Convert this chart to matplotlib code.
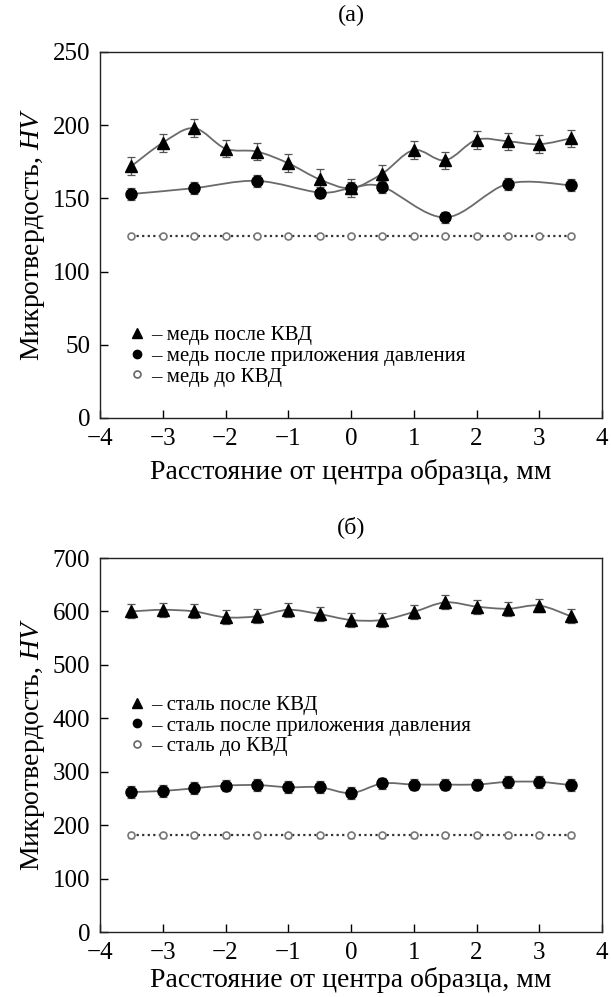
import numpy as np
import matplotlib
matplotlib.use("Agg")
import matplotlib.pyplot as plt
from matplotlib.path import Path
from matplotlib.patches import PathPatch
from matplotlib.lines import Line2D

plt.rcParams['font.family'] = ['Liberation Serif', 'DejaVu Serif']
plt.rcParams['mathtext.fontset'] = 'custom'
plt.rcParams['mathtext.rm'] = 'Liberation Serif'
plt.rcParams['mathtext.it'] = 'Liberation Serif:italic'

# ---------------- data ----------------
x_all = [-3.5, -3.0, -2.5, -2.0, -1.5, -1.0, -0.5, 0.0, 0.5, 1.0, 1.5, 2.0, 2.5, 3.0, 3.5]
x_cu_press = [-3.5, -2.5, -1.5, -0.5, 0.0, 0.5, 1.5, 2.5, 3.5]

cu_hpt = [172, 188, 198, 184, 182, 174, 163, 157, 167, 183, 176, 190, 189, 187, 191]
cu_hpt_err = [6, 6, 6, 6, 6, 6, 7, 6, 6, 6, 6, 6, 6, 6, 6]
cu_press = [153, 157, 162, 154, 157, 158, 137, 160, 159]
cu_press_err = [4, 4, 4, 4, 4, 4, 4, 4, 4]
cu_init = [124] * 15
cu_init_err = [1] * 15

st_hpt = [600, 603, 600, 589, 591, 603, 595, 584, 584, 599, 617, 609, 605, 611, 591]
st_hpt_err = [13] * 15
st_press = [262, 264, 269, 274, 275, 271, 271, 260, 278, 276, 276, 276, 281, 281, 275]
st_press_err = [11] * 15
st_init = [181] * 15
st_init_err = [5] * 15

cu_labels = ['– медь после КВД', '– медь после приложения давления', '– медь до КВД']
st_labels = ['– сталь после КВД', '– сталь после приложения давления', '– сталь до КВД']
x_ticks = [-4, -3, -2, -1, 0, 1, 2, 3, 4]
xlabel = 'Расстояние от центра образца, мм'
ylabel = 'Микротвердость, $HV$'

LINE_C = '#6a6a6a'
ERR_C = '#555555'


def smooth_path(x, y):
    x = np.asarray(x, float)
    y = np.asarray(y, float)
    p = np.column_stack([x, y])
    n = len(p)
    verts = [p[0]]
    codes = [Path.MOVETO]
    for i in range(n - 1):
        p0 = p[i - 1] if i > 0 else p[i]
        p1 = p[i]
        p2 = p[i + 1]
        p3 = p[i + 2] if i + 2 < n else p[i + 1]
        c1 = p1 + (p2 - p0) / 6.0
        c2 = p2 - (p3 - p1) / 6.0
        verts += [c1, c2, p2]
        codes += [Path.CURVE4] * 3
    return Path(verts, codes)


def draw_series(ax, x, y, err, marker, ms, mfc, mec):
    ax.add_patch(PathPatch(smooth_path(x, y), fill=False, edgecolor=LINE_C,
                           lw=1.3, zorder=2))
    ax.errorbar(x, y, yerr=err, fmt='none', ecolor=ERR_C, elinewidth=0.9,
                capsize=3, capthick=0.9, zorder=3)
    ax.plot(x, y, ls='none', marker=marker, ms=ms, mfc=mfc, mec=mec, mew=1.0, zorder=4)


def style_axes(ax, ylim, yticks, xpad):
    ax.set_xlim(-4, 4)
    ax.set_ylim(*ylim)
    ax.set_xticks(x_ticks)
    ax.set_xticklabels([str(t).replace('-', '−') for t in x_ticks])
    ax.set_yticks(yticks)
    ax.tick_params(direction='in', length=6, width=1.0, labelsize=18,
                   top=False, right=False, pad=7)
    for s in ax.spines.values():
        s.set_linewidth(1.0)
        s.set_color('#222222')
    ax.set_xlabel(xlabel, fontsize=20, labelpad=xpad)
    ax.set_ylabel(ylabel, fontsize=20, labelpad=4)


def add_legend(ax, labels, anchor):
    handles = [
        Line2D([], [], ls='none', marker='^', ms=7, mfc='black', mec='black'),
        Line2D([], [], ls='none', marker='o', ms=6, mfc='black', mec='black'),
        Line2D([], [], ls='none', marker='o', ms=5, mfc='white', mec='#666666', mew=1.2),
    ]
    ax.legend(handles, labels, loc='upper left', bbox_to_anchor=anchor,
              frameon=False, fontsize=15, handlelength=0.8, handletextpad=0.3,
              labelspacing=0.05, borderaxespad=0)


fig = plt.figure(figsize=(6.11, 9.97), dpi=100)
ax1 = fig.add_axes([100 / 611, 1 - 418 / 997, 502 / 611, 366 / 997])
ax2 = fig.add_axes([100 / 611, 1 - 932 / 997, 502 / 611, 374 / 997])

# top panel (copper)
draw_series(ax1, x_all, cu_hpt, cu_hpt_err, '^', 8.5, 'black', 'black')
draw_series(ax1, x_cu_press, cu_press, cu_press_err, 'o', 8, 'black', 'black')
ax1.plot(x_all, cu_init, ls=(0, (1, 1.5)), color='#333333', lw=1.6, zorder=2)
ax1.errorbar(x_all, cu_init, yerr=cu_init_err, fmt='none', ecolor=ERR_C,
             elinewidth=0.8, capsize=2.5, zorder=3)
ax1.plot(x_all, cu_init, ls='none', marker='o', ms=5, mfc='white', mec='#777777',
         mew=1.2, zorder=4)
style_axes(ax1, (0, 250), [0, 50, 100, 150, 200, 250], 7)
add_legend(ax1, cu_labels, (0.04, 0.275))
ax1.set_title('(а)', fontsize=17.5, pad=22)

# bottom panel (steel)
draw_series(ax2, x_all, st_hpt, st_hpt_err, '^', 8.5, 'black', 'black')
draw_series(ax2, x_all, st_press, st_press_err, 'o', 8, 'black', 'black')
ax2.plot(x_all, st_init, ls=(0, (1, 1.5)), color='#333333', lw=1.6, zorder=2)
ax2.errorbar(x_all, st_init, yerr=st_init_err, fmt='none', ecolor=ERR_C,
             elinewidth=0.8, capsize=2.5, zorder=3)
ax2.plot(x_all, st_init, ls='none', marker='o', ms=5, mfc='white', mec='#777777',
         mew=1.2, zorder=4)
style_axes(ax2, (0, 700), [0, 100, 200, 300, 400, 500, 600, 700], 2)
add_legend(ax2, st_labels, (0.04, 0.655))
ax2.set_title('(б)', fontsize=17.5, pad=18)

fig.savefig('out.png', dpi=100)
